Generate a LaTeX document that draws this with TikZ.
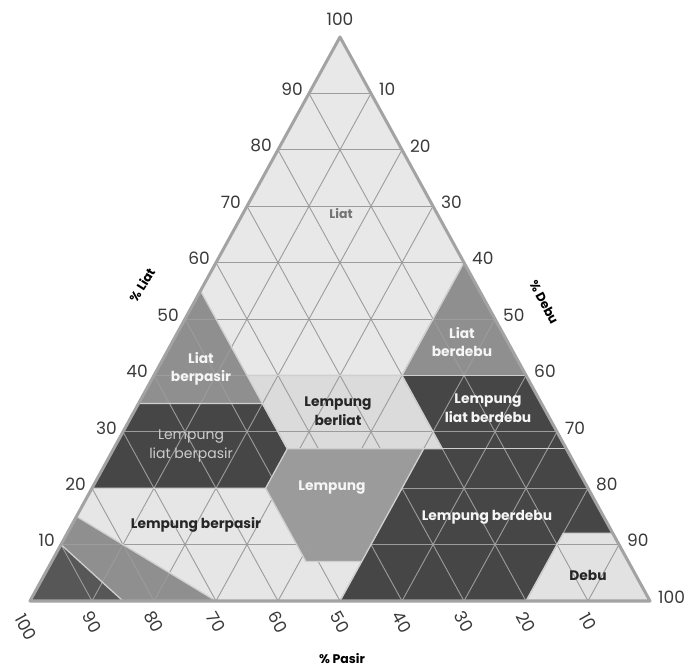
\documentclass[tikz,border=0pt]{standalone}
\usepackage{fontspec}
\setmainfont{Poppins}
\usetikzlibrary{calc}

\definecolor{fillLight}{HTML}{E8E8E8}
\definecolor{fillBerliat}{HTML}{DBDBDB}
\definecolor{fillSandyLoam}{HTML}{E6E6E6}
\definecolor{fillSilt}{HTML}{E2E2E2}
\definecolor{fillMid}{HTML}{8F8F8F}
\definecolor{fillLoam}{HTML}{9B9B9B}
\definecolor{fillDark}{HTML}{464646}
\definecolor{fillSand}{HTML}{575757}
\definecolor{gridGray}{HTML}{9C9C9C}
\definecolor{edgeGray}{HTML}{A3A3A3}
\definecolor{seamGray}{HTML}{CFCFCF}
\definecolor{numGray}{HTML}{3A3A3A}

\tikzset{
  gridline/.style={draw=gridGray, line width=0.9pt},
  seam/.style={draw=seamGray, line width=1.3pt, line join=round},
  outline/.style={draw=edgeGray, line width=3pt, line join=round},
  num/.style={font=\fontsize{17}{18}\selectfont, text=numGray, inner sep=0pt},
  axistitle/.style={font=\bfseries\fontsize{12.5}{13}\selectfont, text=black, inner sep=0pt},
  darklabel/.style={font=\bfseries\fontsize{13.8}{18.5}\selectfont, text=black!85, align=center, inner sep=0pt},
  whitelabel/.style={font=\bfseries\fontsize{13.8}{18.5}\selectfont, text=white!96!black, align=center, inner sep=0pt},
  softlabel/.style={font=\fontsize{14}{19}\selectfont, text=white!80!black, align=center, inner sep=0pt},
}

\begin{document}
\begin{tikzpicture}[x=1pt, y=1pt]
\useasboundingbox[fill=white] (0,0) rectangle (692,671);

% Ternary frame: first coordinate = % silt, second = % clay
\begin{scope}[shift={(30,70)}, x={(6.2pt,0pt)}, y={(3.1pt,5.64pt)}]

  % texture classes
  \fill[fillLight]     (0,100) -- (0,55) -- (15,40) -- (40,40) -- (40,60) -- cycle;       % Liat
  \fill[fillMid]       (0,55) -- (0,35) -- (20,35) -- cycle;                              % Liat berpasir
  \fill[fillMid]       (40,60) -- (60,40) -- (40,40) -- cycle;                            % Liat berdebu
  \fill[fillBerliat]   (15,40) -- (40,40) -- (53,27) -- (28,27) -- cycle;                 % Lempung berliat
  \fill[fillDark]      (0,35) -- (20,35) -- (28,27) -- (28,20) -- (0,20) -- cycle;        % Lempung liat berpasir
  \fill[fillDark]      (40,40) -- (60,40) -- (73,27) -- (53,27) -- cycle;                 % Lempung liat berdebu
  \fill[fillLoam]      (28,27) -- (50,27) -- (50,7) -- (41,7) -- (28,20) -- cycle;        % Lempung
  \fill[fillDark]      (50,27) -- (73,27) -- (88,12) -- (80,12) -- (80,0) -- (50,0) -- cycle; % Lempung berdebu
  \fill[fillSilt]      (88,12) -- (100,0) -- (80,0) -- (80,12) -- cycle;                  % Debu
  \fill[fillSandyLoam] (0,20) -- (28,20) -- (41,7) -- (50,7) -- (50,0) -- (30,0) -- (0,15) -- cycle; % Lempung berpasir
  \fill[fillMid]       (0,15) -- (30,0) -- (15,0) -- (0,10) -- cycle;                     % Pasir berlempung
  \fill[fillSand]      (0,10) -- (15,0) -- (0,0) -- cycle;                                % Pasir

  % 10 % grid
  \foreach \v in {10,20,...,90} {
    \draw[gridline] (0,\v) -- ({100-\v},\v);
    \draw[gridline] (\v,0) -- (\v,{100-\v});
    \draw[gridline] (\v,0) -- (0,\v);
  }

  % class boundaries
  \draw[seam] (0,55) -- (15,40) -- (40,40) -- (40,60);
  \draw[seam] (0,35) -- (20,35) -- (28,27) -- (28,20) -- (0,20);
  \draw[seam] (40,40) -- (60,40);
  \draw[seam] (15,40) -- (28,27) -- (53,27) -- (40,40);
  \draw[seam] (53,27) -- (73,27);
  \draw[seam] (50,27) -- (50,7) -- (41,7) -- (28,20);
  \draw[seam] (50,7) -- (50,0);
  \draw[seam] (88,12) -- (80,12) -- (80,0);
  \draw[seam] (0,15) -- (30,0);
  \draw[seam] (0,10) -- (15,0);

  % triangle outline
  \draw[outline] (0,0) -- (100,0) -- (0,100) -- cycle;

  % % clay (left side)
  \foreach \c in {10,20,...,90}
    \node[num, anchor=east] (clay\c) at ($(0,\c)+(-6pt,4pt)$) {\c};
  \node[num, anchor=south] (clay100) at ($(0,100)+(0pt,11pt)$) {100};

  % % silt (right side)
  \foreach \s in {10,20,...,100}
    \node[num, anchor=west] (silt\s) at ($(\s,{100-\s})+(8pt,4pt)$) {\s};

  % % sand (base)
  \foreach \a in {90,80,...,10}
    \node[num, rotate=-61] (sand\a) at ($({100-\a},0)+(0pt,-21pt)$) {\a};
  \node[num, rotate=-61] (sand100) at ($(0,0)+(-4pt,-26pt)$) {100};
\end{scope}

% axis titles
\node[axistitle, rotate=58] (tClay) at (142,386) {\% Liat};
\node[axistitle, rotate=-62] (tSilt) at (544,369) {\% Debu};
\node[axistitle] (tSand) at (342,12) {\% Pasir};

% class names
\node[font=\bfseries\fontsize{12.5}{14}\selectfont, text=black!55, inner sep=0pt] (nLiat) at (341,457) {Liat};
\node[whitelabel] (nLiatPasir) at (201,302) {Liat\\berpasir};
\node[whitelabel] (nLiatDebu) at (462,329) {Liat\\berdebu};
\node[darklabel] (nBerliat) at (338,260) {Lempung\\berliat};
\node[softlabel] (nLLPasir) at (191,225) {Lempung\\liat berpasir};
\node[whitelabel] (nLLDebu) at (488,263) {Lempung\\liat berdebu};
\node[whitelabel] (nLempung) at (332,183) {Lempung};
\node[whitelabel] (nBerdebu) at (487,154) {Lempung berdebu};
\node[darklabel] (nDebu) at (588,96) {Debu};
\node[darklabel] (nBerpasir) at (196,146) {Lempung berpasir};
\end{tikzpicture}
\end{document}
